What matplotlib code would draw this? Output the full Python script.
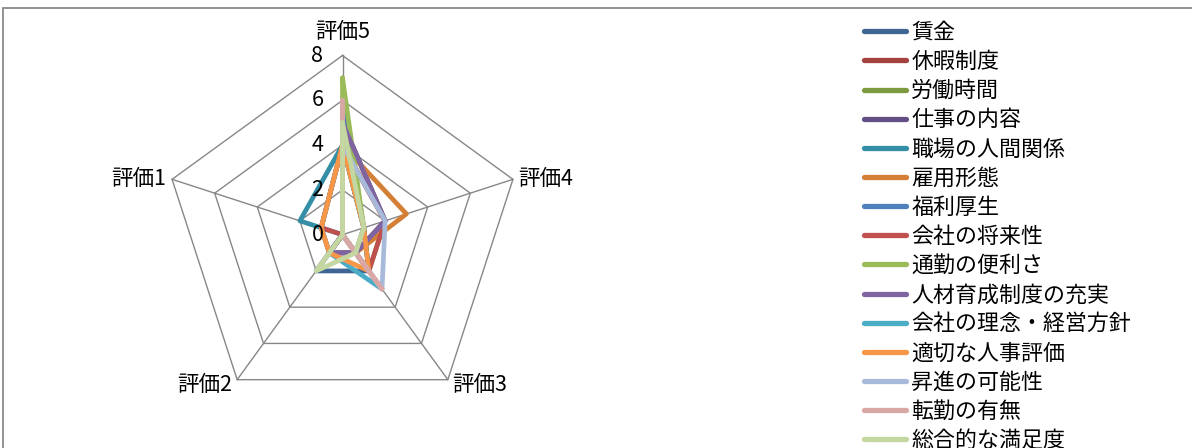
import numpy as np
import matplotlib.pyplot as plt
from matplotlib.patches import Rectangle

plt.rcParams['font.family'] = ['Noto Sans CJK JP', 'DejaVu Sans']

# Categorias (sentido horario a partir do topo)
categorias = ['評価5', '評価4', '評価3', '評価2', '評価1']

# Itens e valores (評価5, 評価4, 評価3, 評価2, 評価1)
itens = ['賃金', '休暇制度', '労働時間', '仕事の内容', '職場の人間関係', '雇用形態',
         '福利厚生', '会社の将来性', '通勤の便利さ', '人材育成制度の充実',
         '会社の理念・経営方針', '適切な人事評価', '昇進の可能性', '転勤の有無', '総合的な満足度']
chingin = [4, 1, 2, 2, 0]
kyuka = [4, 2, 1, 1, 1]
rodo_jikan = [5, 2, 2, 0, 0]
shigoto = [5, 2, 1, 1, 0]
ningen_kankei = [4, 1, 2, 0, 2]
koyo_keitai = [4, 3, 1, 1, 0]
fukuri = [6, 1, 1, 1, 0]
shorai = [4, 2, 2, 0, 1]
tsukin = [7, 1, 1, 0, 0]
jinzai = [5, 2, 1, 1, 0]
rinen = [4, 0, 3, 1, 1]
jinji = [4, 1, 2, 1, 1]
shoshin = [4, 2, 3, 0, 0]
tenkin = [6, 0, 3, 0, 0]
manzoku = [5, 1, 1, 2, 0]
valores = [chingin, kyuka, rodo_jikan, shigoto, ningen_kankei, koyo_keitai, fukuri, shorai,
           tsukin, jinzai, rinen, jinji, shoshin, tenkin, manzoku]

cores = ['#3E6594', '#A4403D', '#7D9A41', '#644F84', '#338EA6', '#D47F36',
         '#4F81BD', '#C0504D', '#9BBB59', '#8064A2', '#4BACC6', '#F79646',
         '#A8BAD9', '#D9A7A6', '#C4D7A0']

ticks = [0, 2, 4, 6, 8]
rmax = 8

# Geometria da figura (pixels)
W, H = 1192, 448
cx, cy = 342.5, 234.7      # centro do radar
escala = 22.4              # pixels por unidade
R = 212

fig = plt.figure(figsize=(W / 100, H / 100), dpi=100)
ax = fig.add_axes([(cx - R) / W, (H - cy - R) / H, 2 * R / W, 2 * R / H])
ax.set_xlim(-R / escala, R / escala)
ax.set_ylim(-R / escala, R / escala)
ax.axis('off')

# Angulos: topo e sentido horario
n = len(categorias)
angulos = np.pi / 2 - 2 * np.pi * np.arange(n) / n
ux, uy = np.cos(angulos), np.sin(angulos)

# Grade pentagonal
cinza = '#878787'
for r in ticks[1:]:
    ax.plot(np.append(r * ux, r * ux[0]), np.append(r * uy, r * uy[0]),
            color=cinza, lw=1.0, zorder=1)
for i in range(n):
    ax.plot([0, rmax * ux[i]], [0, rmax * uy[i]], color=cinza, lw=1.0, zorder=1)

# Rotulos dos eixos
fs = 15.5
ax.text(0, rmax + 0.57, categorias[0], ha='center', va='bottom', fontsize=fs, clip_on=False)
ax.text(rmax * ux[1] + 0.25, rmax * uy[1], categorias[1], ha='left', va='center', fontsize=fs)
ax.text(rmax * ux[2] + 0.2, rmax * uy[2] - 0.25, categorias[2], ha='left', va='center', fontsize=fs)
ax.text(rmax * ux[3] - 0.2, rmax * uy[3] - 0.25, categorias[3], ha='right', va='center', fontsize=fs)
ax.text(rmax * ux[4] - 0.25, rmax * uy[4], categorias[4], ha='right', va='center', fontsize=fs)

# Rotulos da escala
for t in ticks:
    ax.text(-0.85, t, str(t), ha='right', va='center', fontsize=fs)

# Series
for nome, v, c in zip(itens, valores, cores):
    v = np.array(v, dtype=float)
    xs = np.append(v * ux, v[0] * ux[0])
    ys = np.append(v * uy, v[0] * uy[0])
    ax.plot(xs, ys, color=c, lw=3.4, label=nome, zorder=2,
            solid_capstyle='round', solid_joinstyle='round')

# Legenda
fs_leg = 15.8
leg = fig.legend(loc='upper left', bbox_to_anchor=(864 / W, 1 - 22 / H), frameon=False,
                 fontsize=fs_leg, handlelength=1.9, handletextpad=0.25, labelspacing=0.325,
                 borderaxespad=0, borderpad=0)
for linha in leg.get_lines():
    linha.set_linewidth(3.8)

# Borda do grafico
fig.patches.append(Rectangle((3 / W, -0.1), 1.2, 1 - 8 / H + 0.1, transform=fig.transFigure,
                             fill=False, edgecolor='#898989', lw=1.3))

plt.savefig('out.png', dpi=100)
